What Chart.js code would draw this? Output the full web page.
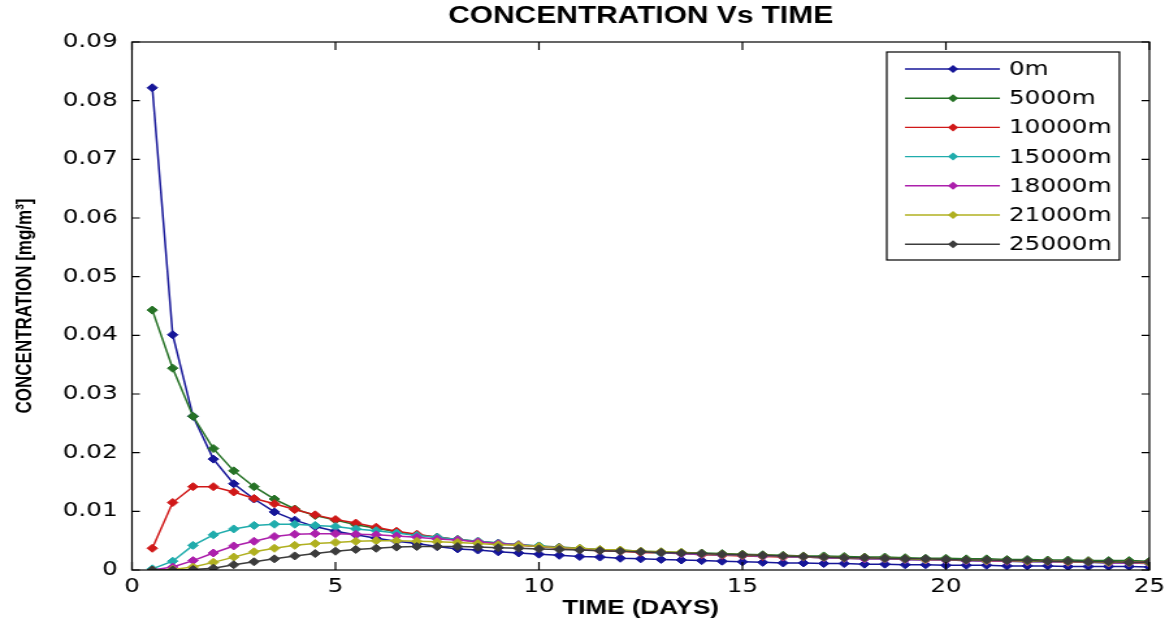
<!DOCTYPE html>
<html>
<head>
<meta charset="utf-8">
<script src="https://cdn.jsdelivr.net/npm/chart.js@4.4.1/dist/chart.umd.min.js"></script>
<style>
    html, body { margin: 0; padding: 0; background: #fff; overflow: hidden; }
    /* the source picture is stretched sideways, so the whole chart is too */
    #wrap { width: 896px; height: 630px; transform: scaleX(1.3002); transform-origin: 0 0; }
</style>
</head>
<body>
<div id="wrap"><canvas id="chart" width="896" height="630"></canvas></div>
<script>
const timeDays = [0.5, 1, 1.5, 2, 2.5, 3, 3.5, 4, 4.5, 5, 5.5, 6, 6.5, 7, 7.5, 8, 8.5, 9, 9.5, 10,
    10.5, 11, 11.5, 12, 12.5, 13, 13.5, 14, 14.5, 15, 15.5, 16, 16.5, 17, 17.5, 18, 18.5, 19, 19.5, 20,
    20.5, 21, 21.5, 22, 22.5, 23, 23.5, 24, 24.5, 25];

const seriesLabels = ['0m', '5000m', '10000m', '15000m', '18000m', '21000m', '25000m'];

const conc0m = [0.0822, 0.0401, 0.0262, 0.0189, 0.0147, 0.0121, 0.0099, 0.0085, 0.0074, 0.0066,
    0.0060, 0.0054, 0.0049, 0.0045, 0.0040, 0.0036, 0.0034, 0.0031, 0.0029, 0.0027,
    0.0025, 0.0023, 0.0022, 0.0020, 0.0019, 0.0018, 0.0017, 0.0016, 0.0015, 0.0014,
    0.0013, 0.0012, 0.0012, 0.0011, 0.0011, 0.0010, 0.0010, 0.0009, 0.0009, 0.0008,
    0.0008, 0.0008, 0.0007, 0.0007, 0.0007, 0.0006, 0.0006, 0.0006, 0.0006, 0.0005];

const conc5000m = [0.0443, 0.0344, 0.0262, 0.0207, 0.0169, 0.0142, 0.0121, 0.0104, 0.0093, 0.0085,
    0.0077, 0.0071, 0.0065, 0.0060, 0.0056, 0.0052, 0.0049, 0.0046, 0.0043, 0.0041,
    0.0039, 0.0037, 0.0035, 0.0034, 0.0032, 0.0031, 0.0030, 0.0029, 0.0028, 0.0027,
    0.0026, 0.0025, 0.0024, 0.0024, 0.0023, 0.0022, 0.0022, 0.0021, 0.0020, 0.0020,
    0.0019, 0.0019, 0.0018, 0.0018, 0.0017, 0.0017, 0.0016, 0.0016, 0.0016, 0.0015];

const conc10000m = [0.0037, 0.0115, 0.0142, 0.0142, 0.0133, 0.0122, 0.0113, 0.0103, 0.0094, 0.0086,
    0.0080, 0.0073, 0.0066, 0.0061, 0.0056, 0.0052, 0.0048, 0.0045, 0.0042, 0.0040,
    0.0037, 0.0035, 0.0033, 0.0032, 0.0030, 0.0029, 0.0028, 0.0026, 0.0025, 0.0024,
    0.0023, 0.0022, 0.0022, 0.0021, 0.0020, 0.0019, 0.0019, 0.0018, 0.0018, 0.0017,
    0.0016, 0.0016, 0.0015, 0.0015, 0.0015, 0.0014, 0.0014, 0.0013, 0.0013, 0.0013];

const conc15000m = [0.0002, 0.0015, 0.0042, 0.0060, 0.0070, 0.0076, 0.0078, 0.0078, 0.0076, 0.0074,
    0.0070, 0.0067, 0.0063, 0.0059, 0.0056, 0.0052, 0.0049, 0.0046, 0.0043, 0.0041,
    0.0038, 0.0036, 0.0034, 0.0033, 0.0031, 0.0029, 0.0028, 0.0027, 0.0026, 0.0025,
    0.0024, 0.0023, 0.0022, 0.0021, 0.0020, 0.0019, 0.0019, 0.0018, 0.0017, 0.0017,
    0.0016, 0.0015, 0.0015, 0.0014, 0.0014, 0.0013, 0.0013, 0.0012, 0.0012, 0.0011];

const conc18000m = [0.0000, 0.0005, 0.0016, 0.0029, 0.0041, 0.0049, 0.0057, 0.0061, 0.0062, 0.0062,
    0.0061, 0.0060, 0.0058, 0.0056, 0.0053, 0.0051, 0.0048, 0.0045, 0.0043, 0.0040,
    0.0038, 0.0036, 0.0034, 0.0033, 0.0031, 0.0030, 0.0028, 0.0027, 0.0026, 0.0025,
    0.0024, 0.0023, 0.0022, 0.0021, 0.0020, 0.0019, 0.0019, 0.0018, 0.0017, 0.0017,
    0.0016, 0.0015, 0.0015, 0.0014, 0.0014, 0.0013, 0.0013, 0.0012, 0.0012, 0.0011];

const conc21000m = [0.0000, 0.0001, 0.0005, 0.0013, 0.0022, 0.0031, 0.0037, 0.0042, 0.0045, 0.0047,
    0.0049, 0.0050, 0.0050, 0.0049, 0.0048, 0.0047, 0.0045, 0.0043, 0.0042, 0.0040,
    0.0038, 0.0037, 0.0035, 0.0034, 0.0032, 0.0031, 0.0030, 0.0028, 0.0027, 0.0026,
    0.0025, 0.0024, 0.0023, 0.0022, 0.0021, 0.0021, 0.0020, 0.0019, 0.0018, 0.0018,
    0.0017, 0.0016, 0.0016, 0.0015, 0.0015, 0.0014, 0.0014, 0.0013, 0.0013, 0.0012];

const conc25000m = [0.0000, 0.0000, 0.0001, 0.0003, 0.0009, 0.0014, 0.0019, 0.0024, 0.0028, 0.0032,
    0.0035, 0.0037, 0.0039, 0.0040, 0.0040, 0.0040, 0.0039, 0.0038, 0.0037, 0.0036,
    0.0035, 0.0034, 0.0033, 0.0032, 0.0031, 0.0030, 0.0029, 0.0028, 0.0027, 0.0026,
    0.0025, 0.0024, 0.0023, 0.0022, 0.0021, 0.0021, 0.0020, 0.0019, 0.0019, 0.0018,
    0.0017, 0.0017, 0.0016, 0.0016, 0.0015, 0.0015, 0.0014, 0.0014, 0.0013, 0.0013];

const allSeries = [conc0m, conc5000m, conc10000m, conc15000m, conc18000m, conc21000m, conc25000m];

const chartTitle = 'CONCENTRATION Vs TIME';

// matlab-ish line colours
const lineColors = ['#161698', '#267226', '#d01818', '#20acac', '#ac20ac', '#b0b020', '#3c3c3c'];

const tickFont = { family: '"DejaVu Sans", sans-serif', size: 19 };

// title centred on the plot box, frame, inward ticks on all sides, legend box
const matlabFrame = {
    id: 'matlabFrame',
    afterDraw(chart) {
        const { ctx, chartArea: a, scales } = chart;
        ctx.save();

        ctx.fillStyle = '#000';
        ctx.font = 'bold 23px "Liberation Sans", Arial, sans-serif';
        ctx.textAlign = 'center';
        ctx.textBaseline = 'middle';
        ctx.fillText(chartTitle, (a.left + a.right) / 2, 17);

        ctx.strokeStyle = '#000';
        ctx.lineWidth = 1.2;
        ctx.strokeRect(a.left, a.top, a.right - a.left, a.bottom - a.top);
        ctx.beginPath();
        scales.x.ticks.forEach(t => {
            const px = scales.x.getPixelForValue(t.value);
            ctx.moveTo(px, a.bottom); ctx.lineTo(px, a.bottom - 8);
            ctx.moveTo(px, a.top); ctx.lineTo(px, a.top + 8);
        });
        scales.y.ticks.forEach(t => {
            const py = scales.y.getPixelForValue(t.value);
            ctx.moveTo(a.left, py); ctx.lineTo(a.left + 6, py);
            ctx.moveTo(a.right, py); ctx.lineTo(a.right - 6, py);
        });
        ctx.stroke();

        // legend
        const boxW = 179, boxH = 208;
        const bx = a.right - 23 - boxW, by = a.top + 10;
        ctx.fillStyle = '#fff';
        ctx.fillRect(bx, by, boxW, boxH);
        ctx.lineWidth = 1.2;
        ctx.strokeRect(bx, by, boxW, boxH);
        ctx.font = '19px "DejaVu Sans", sans-serif';
        ctx.textBaseline = 'middle';
        ctx.textAlign = 'left';
        chart.data.datasets.forEach((ds, i) => {
            const ry = by + 17 + i * 29.2;
            ctx.strokeStyle = ds.borderColor;
            ctx.lineWidth = 1.4;
            ctx.beginPath();
            ctx.moveTo(bx + 14, ry); ctx.lineTo(bx + 87, ry);
            ctx.stroke();
            ctx.fillStyle = ds.borderColor;
            ctx.beginPath();
            ctx.moveTo(bx + 51, ry - 4); ctx.lineTo(bx + 55, ry);
            ctx.lineTo(bx + 51, ry + 4); ctx.lineTo(bx + 47, ry);
            ctx.closePath();
            ctx.fill();
            ctx.fillStyle = '#000';
            ctx.fillText(ds.label, bx + 94, ry + 1);
        });
        ctx.restore();
    }
};

const datasets = seriesLabels.map((label, i) => ({
    label: label,
    data: timeDays.map((t, j) => ({ x: t, y: allSeries[i][j] })),
    borderColor: lineColors[i],
    backgroundColor: lineColors[i],
    borderWidth: 1.5,
    pointStyle: 'rectRot',
    pointRadius: 4,
    pointBorderWidth: 1,
    tension: 0,
    order: seriesLabels.length - i
}));

new Chart(document.getElementById('chart'), {
    type: 'line',
    data: { datasets: datasets },
    options: {
        responsive: false,
        animation: false,
        layout: { padding: { left: 0, right: 0, top: 42, bottom: 0 } },
        plugins: {
            legend: { display: false },
            tooltip: { enabled: false },
            title: { display: false }
        },
        scales: {
            x: {
                type: 'linear',
                min: 0,
                max: 25,
                ticks: { stepSize: 5, color: '#000', font: tickFont, padding: 6, maxRotation: 0 },
                grid: { display: false, drawTicks: false },
                border: { display: false },
                title: {
                    display: true,
                    text: 'TIME (DAYS)',
                    color: '#000',
                    font: { family: '"Liberation Sans", Arial, sans-serif', size: 20, weight: 'bold', lineHeight: 1.2 },
                    padding: { top: 0, bottom: 10 }
                },
                afterFit(scale) {
                    scale.height = 60;
                    scale.paddingLeft = 0;
                    scale.paddingRight = 12;
                }
            },
            y: {
                min: 0,
                max: 0.09,
                ticks: {
                    stepSize: 0.01,
                    color: '#000',
                    font: tickFont,
                    padding: 11,
                    callback: v => v === 0 ? '0' : v.toFixed(2)
                },
                grid: { display: false, drawTicks: false },
                border: { display: false },
                title: {
                    display: true,
                    text: 'CONCENTRATION [mg/m³]',
                    color: '#000',
                    font: { family: '"Liberation Sans", Arial, sans-serif', size: 17, weight: 'bold', lineHeight: 1.2 },
                    padding: { top: 9, bottom: 0 }
                },
                afterFit(scale) { scale.width = 101.5; }
            }
        }
    },
    plugins: [matlabFrame]
});
</script>
</body>
</html>
